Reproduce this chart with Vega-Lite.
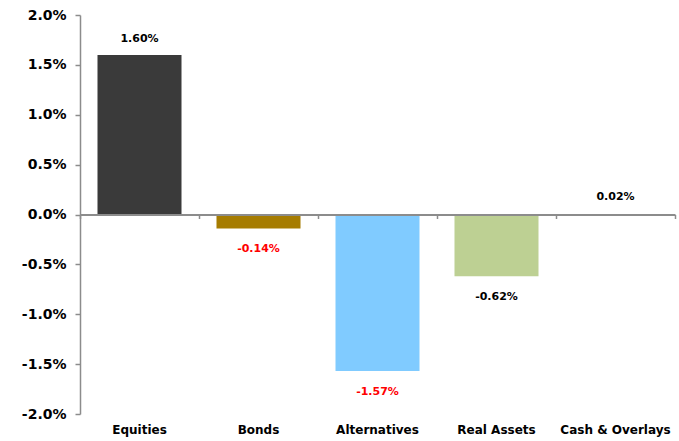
{
  "$schema": "https://vega.github.io/schema/vega-lite/v6.json",
  "autosize": "none",
  "width": 595,
  "height": 399,
  "padding": {"left": 80, "top": 15, "right": 4, "bottom": 27},
  "background": "white",
  "config": {
    "view": {"stroke": null},
    "locale": {"number": {"decimal": ".", "thousands": ",", "grouping": [3], "currency": ["$", ""], "minus": "-"}}
  },
  "data": {
    "values": [
      {"category": "Equities", "value": 0.016},
      {"category": "Bonds", "value": -0.0014},
      {"category": "Alternatives", "value": -0.0157},
      {"category": "Real Assets", "value": -0.0062},
      {"category": "Cash & Overlays", "value": 0.0002}
    ]
  },
  "resolve": {"scale": {"x": "independent"}, "axis": {"x": "independent"}},
  "layer": [
    {
      "mark": {"type": "bar"},
      "encoding": {
        "x": {
          "field": "category", "type": "nominal", "sort": null,
          "scale": {
            "domain": ["Equities", "Bonds", "Alternatives", "Real Assets", "Cash & Overlays"],
            "paddingInner": 0.294, "paddingOuter": 0.147
          },
          "axis": {
            "orient": "bottom", "title": null, "domain": false, "ticks": false,
            "labelAngle": 0, "labelPadding": 10, "labelFont": "DejaVu Sans",
            "labelFontWeight": "bold", "labelFontSize": 12, "labelColor": "#000000"
          }
        },
        "y": {
          "field": "value", "type": "quantitative",
          "scale": {"domain": [-0.02, 0.02], "nice": false, "zero": false},
          "axis": {
            "title": null, "format": ".1%", "grid": false,
            "values": [-0.02, -0.015, -0.01, -0.005, 0, 0.005, 0.01, 0.015, 0.02],
            "domainColor": "#8c8c8c", "domainWidth": 1.5, "tickColor": "#8c8c8c",
            "tickWidth": 1.5, "tickSize": 5, "labelPadding": 9,
            "labelFont": "DejaVu Sans", "labelFontWeight": "bold", "labelFontSize": 14,
            "labelColor": "#000000"
          }
        },
        "color": {
          "field": "category", "type": "nominal", "legend": null,
          "scale": {
            "domain": ["Equities", "Bonds", "Alternatives", "Real Assets", "Cash & Overlays"],
            "range": ["#3a3a3a", "#a67c00", "#80cbff", "#bdd093", "#ffffff"]
          }
        }
      }
    },
    {
      "encoding": {
        "x": {
          "field": "category", "type": "nominal", "sort": null,
          "scale": {
            "domain": ["Equities", "Bonds", "Alternatives", "Real Assets", "Cash & Overlays"],
            "paddingInner": 0, "paddingOuter": 0
          },
          "axis": {
            "orient": "bottom", "offset": -199.5, "title": null, "labels": false,
            "domain": true, "ticks": true, "tickBand": "extent", "tickSize": 4,
            "domainColor": "#8c8c8c", "domainWidth": 2, "tickColor": "#8c8c8c", "tickWidth": 1.5,
            "zindex": 1
          }
        },
        "y": {"field": "value", "type": "quantitative"},
        "text": {"field": "value", "type": "quantitative", "format": ".2%"}
      },
      "layer": [
        {
          "transform": [{"filter": "datum.value >= 0"}],
          "mark": {"type": "text", "dy": -16, "font": "DejaVu Sans", "fontWeight": "bold", "fontSize": 11},
          "encoding": {"color": {"value": "#000000"}}
        },
        {
          "transform": [{"filter": "datum.value < 0"}],
          "mark": {"type": "text", "dy": 20.5, "font": "DejaVu Sans", "fontWeight": "bold", "fontSize": 11},
          "encoding": {
            "color": {
              "condition": {"test": "datum.category === 'Bonds' || datum.category === 'Alternatives'", "value": "#ff0000"},
              "value": "#000000"
            }
          }
        }
      ]
    }
  ]
}
